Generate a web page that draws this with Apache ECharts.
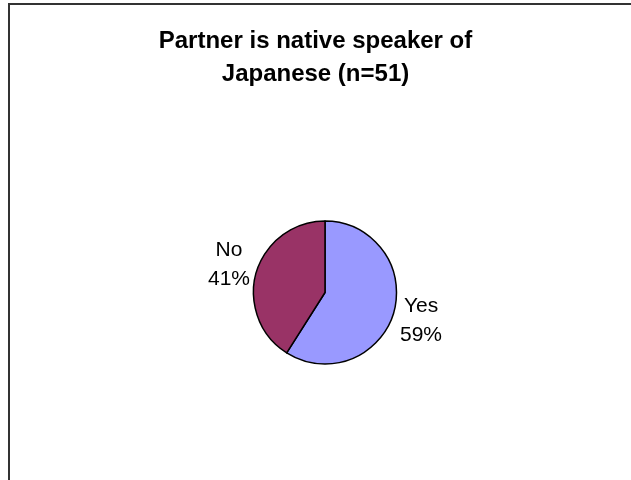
<!DOCTYPE html>
<html>
<head>
<meta charset="utf-8">
<script src="https://cdn.jsdelivr.net/npm/echarts@6/dist/echarts.min.js"></script>
<style>
  html, body { margin: 0; padding: 0; background: #fff; }
  #chart { width: 631px; height: 480px; }
</style>
</head>
<body>
<div id="chart"></div>
<script>
// Survey answers: is the partner a native speaker of Japanese?
const titleText = 'Partner is native speaker of\nJapanese (n=51)';
const categories = ['Yes', 'No'];
const shares = [59, 41];           // percent of respondents
const sliceColors = ['#9999FF', '#993366'];

const chart = echarts.init(document.getElementById('chart'), null, { renderer: 'canvas' });

chart.setOption({
  backgroundColor: '#ffffff',
  animation: false,
  title: {
    text: titleText,
    left: 'center',
    top: 20,
    textStyle: {
      fontFamily: 'Liberation Sans, Arial, sans-serif',
      fontSize: 24,
      fontWeight: 'bold',
      color: '#000',
      lineHeight: 33
    }
  },
  // chart-area frame; its right and bottom edges run past the page
  graphic: [{
    type: 'rect',
    silent: true,
    shape: { x: 9, y: 4, width: 700, height: 600 },
    style: { fill: 'none', stroke: '#333', lineWidth: 2 }
  }],
  series: [{
    type: 'pie',
    center: [325, 292.5],
    radius: 71.5,
    startAngle: 90,
    clockwise: true,
    percentPrecision: 0,
    data: categories.map((name, i) => ({
      name: name,
      value: shares[i],
      itemStyle: { color: sliceColors[i] }
    })),
    itemStyle: { borderColor: '#000', borderWidth: 1.5 },
    label: {
      show: true,
      position: 'outside',
      formatter: '{b}\n{d}%',
      fontFamily: 'Liberation Sans, Arial, sans-serif',
      fontSize: 21,
      lineHeight: 29,
      color: '#000',
      distanceToLabelLine: 0
    },
    labelLine: { show: false, length: 28.5, length2: 0 },
    labelLayout: function () {
      return { align: 'center' };
    },
    emphasis: { disabled: true }
  }]
});
</script>
</body>
</html>
